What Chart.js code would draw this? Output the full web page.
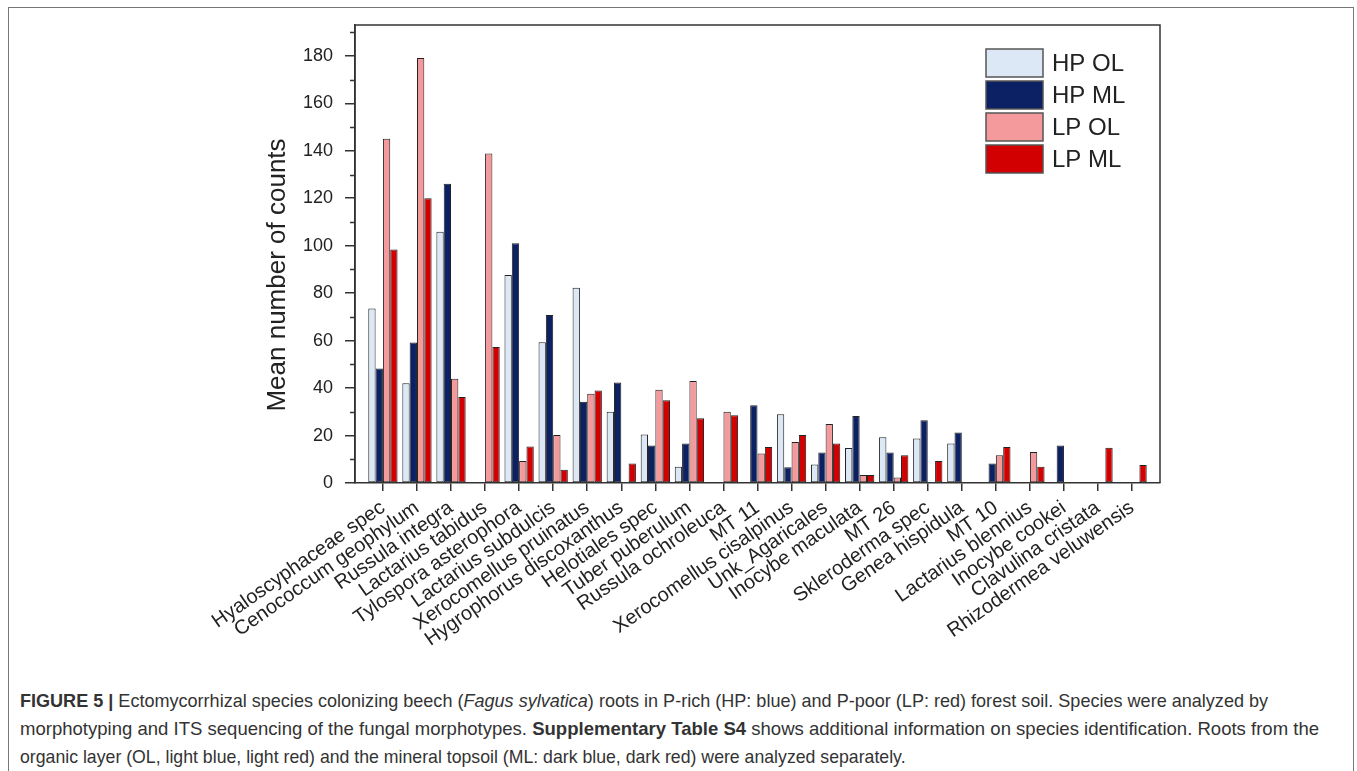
<!DOCTYPE html>
<html><head><meta charset="utf-8">
<script src="https://cdn.jsdelivr.net/npm/chart.js@4.4.0/dist/chart.umd.min.js"></script>
<style>
html,body{margin:0;padding:0;background:#fff;width:1357px;height:771px;overflow:hidden;}
#frame{position:absolute;left:8px;top:7px;width:1346px;height:800px;border:1.5px solid #777;box-sizing:border-box;}
#c{position:absolute;left:0;top:0;}
#cap{position:absolute;left:20px;top:687px;font-family:"Liberation Sans Narrow","Arial Narrow","Liberation Sans",Arial,sans-serif;font-size:19px;line-height:28px;color:#333;white-space:nowrap;transform:scaleX(0.95);transform-origin:0 0;}
#cap span{display:inline-block;transform-origin:0 0;}
</style></head>
<body>
<div id="frame"></div>
<canvas id="c" width="1357" height="660"></canvas>
<div id="cap"><span><b>FIGURE 5 |</b> Ectomycorrhizal species colonizing beech (<i>Fagus sylvatica</i>) roots in P-rich (HP: blue) and P-poor (LP: red) forest soil. Species were analyzed by</span><br><span style="transform:scaleX(1.027)">morphotyping and ITS sequencing of the fungal morphotypes. <b>Supplementary Table S4</b> shows additional information on species identification. Roots from the</span><br><span style="transform:scaleX(0.98)">organic layer (OL, light blue, light red) and the mineral topsoil (ML: dark blue, dark red) were analyzed separately.</span></div>
<script>
const categories = ["Hyaloscyphaceae spec","Cenococcum geophylum","Russula integra","Lactarius tabidus","Tylospora asterophora","Lactarius subdulcis","Xerocomellus pruinatus","Hygrophorus discoxanthus","Helotiales spec","Tuber puberulum","Russula ochroleuca","MT 11","Xerocomellus cisalpinus","Unk_Agaricales","Inocybe maculata","MT 26","Skleroderma spec","Genea hispidula","MT 10","Lactarius blennius","Inocybe cookei","Clavulina cristata","Rhizodermea veluwensis"];
const hpOL = [73.5, 42, 105.9, 0, 87.6, 59.3, 82.3, 30, 20.4, 6.9, 0, 0, 29, 7.8, 14.8, 19.3, 18.8, 16.6, 0, 0, 0, 0, 0];
const hpML = [48.2, 59.2, 126.1, 0, 101, 70.8, 34.2, 42.4, 15.8, 16.6, 0, 32.8, 6.6, 12.8, 28.2, 12.8, 26.4, 21.3, 8.2, 0, 15.8, 0, 0];
const lpOL = [145.1, 179.1, 43.9, 138.9, 9.3, 20.2, 37.6, 0, 39.3, 43, 30, 12.4, 17.3, 24.9, 3.4, 2.3, 0, 0, 11.7, 13.1, 0, 0, 0];
const lpML = [98.4, 120, 36.2, 57.3, 15.4, 5.6, 39, 8.2, 34.9, 27.3, 28.6, 15.2, 20.2, 16.6, 3.4, 11.7, 9.3, 0, 15.2, 6.9, 0, 14.9, 7.6];
const seriesLabels = ["HP OL","HP ML","LP OL","LP ML"];
const seriesValues = [hpOL, hpML, lpOL, lpML];
const seriesColors = ["#dce8f6","#0b2163","#f59a9c","#d20000"];
const yTickValues = [0,20,40,60,80,100,120,140,160,180];
const yMinorValues = [10,30,50,70,90,110,130,150,170,190];
const yTitle = "Mean number of counts";

const FONT = "'Liberation Sans', Arial, sans-serif";

const framePlugin = {
  id: 'frame',
  afterDraw(chart) {
    const {ctx, chartArea: a, scales} = chart;
    ctx.save();
    ctx.strokeStyle = '#333';
    ctx.lineWidth = 1.5;
    ctx.beginPath();
    ctx.moveTo(a.left, a.bottom); ctx.lineTo(a.left, a.top); ctx.lineTo(a.right, a.top); ctx.lineTo(a.right, a.bottom);
    ctx.stroke();
    // minor y ticks
    ctx.beginPath();
    yMinorValues.forEach(v => {
      const y = Math.round(scales.y.getPixelForValue(v)) + 0.5;
      ctx.moveTo(a.left - 5, y); ctx.lineTo(a.left, y);
    });
    ctx.stroke();
    // y axis title
    ctx.save();
    ctx.translate(285, 275);
    ctx.rotate(-Math.PI / 2);
    ctx.font = "26px " + FONT;
    ctx.fillStyle = '#222';
    ctx.textAlign = 'center';
    ctx.textBaseline = 'alphabetic';
    ctx.fillText(yTitle, 0, 0);
    ctx.restore();
    // legend
    const bx = 986, bw = 57, bh = 28, top0 = 49, step = 32;
    ctx.font = "24px " + FONT;
    ctx.textBaseline = 'middle';
    ctx.textAlign = 'left';
    chart.data.datasets.forEach((ds, k) => {
      const y = top0 + step * k;
      ctx.fillStyle = ds.backgroundColor;
      ctx.fillRect(bx, y, bw, bh);
      ctx.strokeStyle = '#555';
      ctx.lineWidth = 1.5;
      ctx.strokeRect(bx, y, bw, bh);
      ctx.fillStyle = '#222';
      ctx.fillText(ds.label, 1052, y + bh / 2 + 1);
    });
    ctx.restore();
  }
};

new Chart(document.getElementById('c').getContext('2d'), {
  type: 'bar',
  data: {
    datasets: seriesLabels.map((lab, k) => ({
      label: lab,
      data: seriesValues[k].map((v, i) => ({x: i, y: v})),
      backgroundColor: seriesColors[k],
      borderColor: '#222',
      borderWidth: 1,
      borderSkipped: false,
      categoryPercentage: 0.86,
      barPercentage: 1
    }))
  },
  options: {
    responsive: false,
    animation: false,
    devicePixelRatio: 1,
    layout: {padding: {top: 25, right: 197, left: 260, bottom: 0}},
    plugins: {legend: {display: false}, tooltip: {enabled: false}},
    scales: {
      x: {
        type: 'linear', min: -0.82, max: 22.82, offset: false,
        grid: {display: true, drawOnChartArea: false, tickLength: 8, color: '#333', lineWidth: 1.5, offset: false},
        border: {display: true, color: '#333', width: 1.5},
        afterBuildTicks: s => { s.ticks = categories.map((c, i) => ({value: i})); },
        afterFit: s => { s.height = 177; },
        ticks: {autoSkip: false, maxRotation: 35, minRotation: 35, padding: 5,
          font: {family: FONT, size: 20}, color: '#222',
          callback: v => categories[v]}
      },
      y: {
        min: 0, max: 193,
        afterBuildTicks: s => { s.ticks = yTickValues.map(v => ({value: v})); },
        afterFit: s => { s.width = 95; },
        grid: {display: true, drawOnChartArea: false, tickLength: 10, color: '#333', lineWidth: 1.5},
        border: {display: true, color: '#333', width: 1.5},
        ticks: {padding: 12, font: {family: FONT, size: 18}, color: '#222'},
        title: {display: false}
      }
    }
  },
  plugins: [framePlugin]
});
</script>
</body></html>
